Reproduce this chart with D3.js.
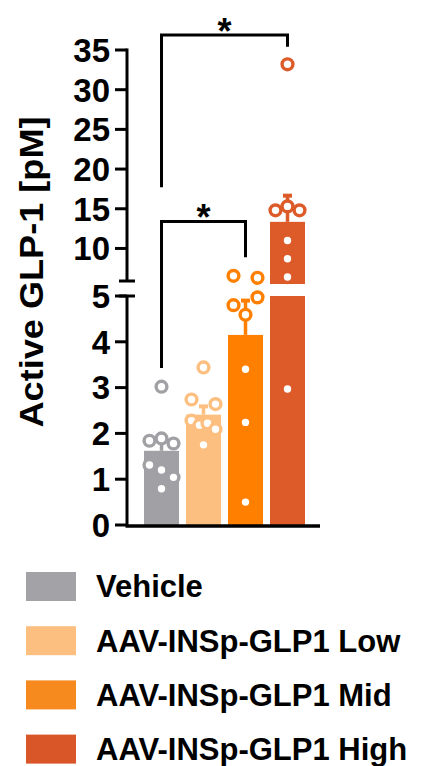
<!DOCTYPE html>
<html>
<head>
<meta charset="utf-8">
<script src="https://cdn.jsdelivr.net/npm/d3@7"></script>
<style>
  html, body { margin: 0; padding: 0; background: #fff; }
  svg { display: block; font-family: "Liberation Sans", Arial, Helvetica, sans-serif; font-weight: bold; }
</style>
</head>
<body>
<svg id="chart" width="421" height="766"></svg>
<script>
// ---------------- data ----------------
const groups = ["Vehicle", "AAV-INSp-GLP1 Low", "AAV-INSp-GLP1 Mid", "AAV-INSp-GLP1 High"];
const means = [1.62, 2.41, 4.15, 13.35];
const sems  = [0.25, 0.18, 0.75, 3.30];
const vehiclePoints = [3.02, 1.84, 1.89, 1.78, 1.31, 1.20, 1.04, 0.79];
const lowPoints     = [3.44, 2.74, 2.64, 2.28, 2.18, 2.22, 2.09, 1.75];
const midPoints     = [6.55, 6.30, 4.80, 4.97, 4.59, 3.40, 2.24, 0.50];
const highPoints    = [33.2, 14.8, 15.3, 14.8, 11.0, 8.7, 6.4, 2.97];
const lowerTicks = [0, 1, 2, 3, 4, 5];
const upperTicks = [10, 15, 20, 25, 30, 35];
const lowerDomain = [0, 5];
const upperDomain = [5.9, 35];
const yLabel = "Active GLP-1 [pM]";
// significance brackets (group indices, levels in data units)
const brackets = [
  { a: 0, b: 2, top: 13.4, leftEnd: 3.43, rightEnd: 8.9, label: "*" },
  { a: 0, b: 3, top: 36.9, leftEnd: 17.7, rightEnd: 35.4, label: "*" }
];
// ---------------- styles ----------------
const barColors    = ["#a1a0a4", "#fdbf80", "#ff8000", "#dd5a29"];
const legendColors = ["#a3a2a7", "#fdbf80", "#f68a1f", "#d95628"];

const pointSets = [vehiclePoints, lowPoints, midPoints, highPoints];

const svg = d3.select("#chart");

const axisX = 127;
const x = d3.scaleBand().domain(groups).range([140.5, 308.5])
  .paddingInner(7 / 42).paddingOuter(3.5 / 42);
const yLow = d3.scaleLinear().domain(lowerDomain).range([525, 296]);
const yUp  = d3.scaleLinear().domain(upperDomain).range([281, 50]);
const yv = v => v <= lowerDomain[1] ? yLow(v) : yUp(v);

// ---------------- bars ----------------
const barG = svg.append("g");
groups.forEach((g, i) => {
  const m = means[i];
  barG.append("rect")
    .attr("x", x(g)).attr("width", x.bandwidth())
    .attr("y", yLow(Math.min(m, lowerDomain[1])))
    .attr("height", yLow(0) - yLow(Math.min(m, lowerDomain[1])))
    .attr("fill", barColors[i]);
  if (m > upperDomain[0]) {
    barG.append("rect")
      .attr("x", x(g)).attr("width", x.bandwidth())
      .attr("y", yUp(m))
      .attr("height", yUp(upperDomain[0]) + 3 - yUp(m))
      .attr("fill", barColors[i]);
  }
});

// ---------------- error bars (upper only) ----------------
const errG = svg.append("g");
groups.forEach((g, i) => {
  const cx = x(g) + x.bandwidth() / 2;
  const top = yv(means[i] + sems[i]);
  errG.append("line").attr("x1", cx).attr("x2", cx)
    .attr("y1", yv(means[i])).attr("y2", top)
    .attr("stroke", barColors[i]).attr("stroke-width", 3.5);
  errG.append("line").attr("x1", cx - 4.5).attr("x2", cx + 4.5)
    .attr("y1", top).attr("y2", top)
    .attr("stroke", barColors[i]).attr("stroke-width", 4);
});

// ---------------- scatter points (row-based spreading) ----------------
const ptR = 5.4, rowH = 13, spread = 12;
const ptG = svg.append("g");
pointSets.forEach((vals, i) => {
  const g = groups[i];
  const cx = x(g) + x.bandwidth() / 2;
  const pts = vals.map((v, k) => ({ v, k, y: yv(v) }));
  const sorted = pts.slice().sort((p, q) => p.y - q.y);
  const rows = [];
  sorted.forEach(p => {
    const last = rows[rows.length - 1];
    if (last && p.y - last[0].y <= rowH) last.push(p); else rows.push([p]);
  });
  rows.forEach(row => {
    row.sort((p, q) => p.k - q.k);
    const n = row.length;
    row.forEach((p, j) => {
      p.x = n === 1 ? cx : cx - spread + (2 * spread) * j / (n - 1);
    });
  });
  ptG.selectAll(null).data(pts).enter().append("circle")
    .attr("cx", d => d.x).attr("cy", d => d.y).attr("r", ptR)
    .attr("fill", "#fff").attr("stroke", barColors[i]).attr("stroke-width", 3.4);
});

// ---------------- axes ----------------
const axG = svg.append("g").attr("stroke", "#000");
axG.append("line").attr("x1", axisX - 1.5).attr("x2", 320)
  .attr("y1", 526).attr("y2", 526).attr("stroke-width", 3.5);
axG.append("line").attr("x1", axisX).attr("x2", axisX)
  .attr("y1", 526).attr("y2", yLow(lowerDomain[1])).attr("stroke-width", 3);
axG.append("line").attr("x1", axisX).attr("x2", axisX)
  .attr("y1", yUp(upperDomain[0])).attr("y2", yUp(35) - 1.5).attr("stroke-width", 3);
[yLow(lowerDomain[1]), yUp(upperDomain[0])].forEach(yy => {
  axG.append("line").attr("x1", axisX - 8).attr("x2", axisX + 8)
    .attr("y1", yy).attr("y2", yy).attr("stroke-width", 3);
});
const tickFs = 33;
const tickG = svg.append("g");
function drawTicks(ticks, scale) {
  ticks.forEach(t => {
    const yy = scale(t);
    tickG.append("line").attr("x1", axisX - 12).attr("x2", axisX)
      .attr("y1", yy).attr("y2", yy).attr("stroke", "#000").attr("stroke-width", 3);
    tickG.append("text").attr("x", 110).attr("y", yy + tickFs * 0.358)
      .attr("text-anchor", "end").attr("font-size", tickFs).attr("fill", "#000")
      .text(t);
  });
}
drawTicks(lowerTicks, yLow);
drawTicks(upperTicks, yUp);

// y label
svg.append("text")
  .attr("transform", "translate(43,272) rotate(-90)")
  .attr("text-anchor", "middle").attr("font-size", 34).attr("fill", "#000")
  .attr("textLength", 311).attr("lengthAdjust", "spacingAndGlyphs")
  .text(yLabel);

// ---------------- significance brackets ----------------
const brG = svg.append("g");
brackets.forEach(b => {
  const xa = x(groups[b.a]) + x.bandwidth() / 2;
  const xb = x(groups[b.b]) + x.bandwidth() / 2;
  const yt = yv(b.top);
  brG.append("path")
    .attr("d", `M${xa},${yv(b.leftEnd)}V${yt}H${xb}V${yv(b.rightEnd)}`)
    .attr("fill", "none").attr("stroke", "#000").attr("stroke-width", 3)
    .attr("stroke-linejoin", "miter").attr("stroke-linecap", "butt");
  brG.append("text").attr("x", (xa + xb) / 2).attr("y", yt - 12 + 0.58 * 36)
    .attr("text-anchor", "middle").attr("font-size", 36).attr("fill", "#000")
    .text(b.label);
});

// ---------------- legend ----------------
const legG = svg.append("g");
groups.forEach((g, i) => {
  const cy = 586.5 + i * 54.2;
  legG.append("rect").attr("x", 26).attr("y", cy - 14.5).attr("width", 50).attr("height", 29)
    .attr("fill", legendColors[i]);
  legG.append("text").attr("x", 96).attr("y", cy + 10.8).attr("font-size", 31)
    .attr("fill", "#000").text(g);
});
</script>
</body>
</html>
